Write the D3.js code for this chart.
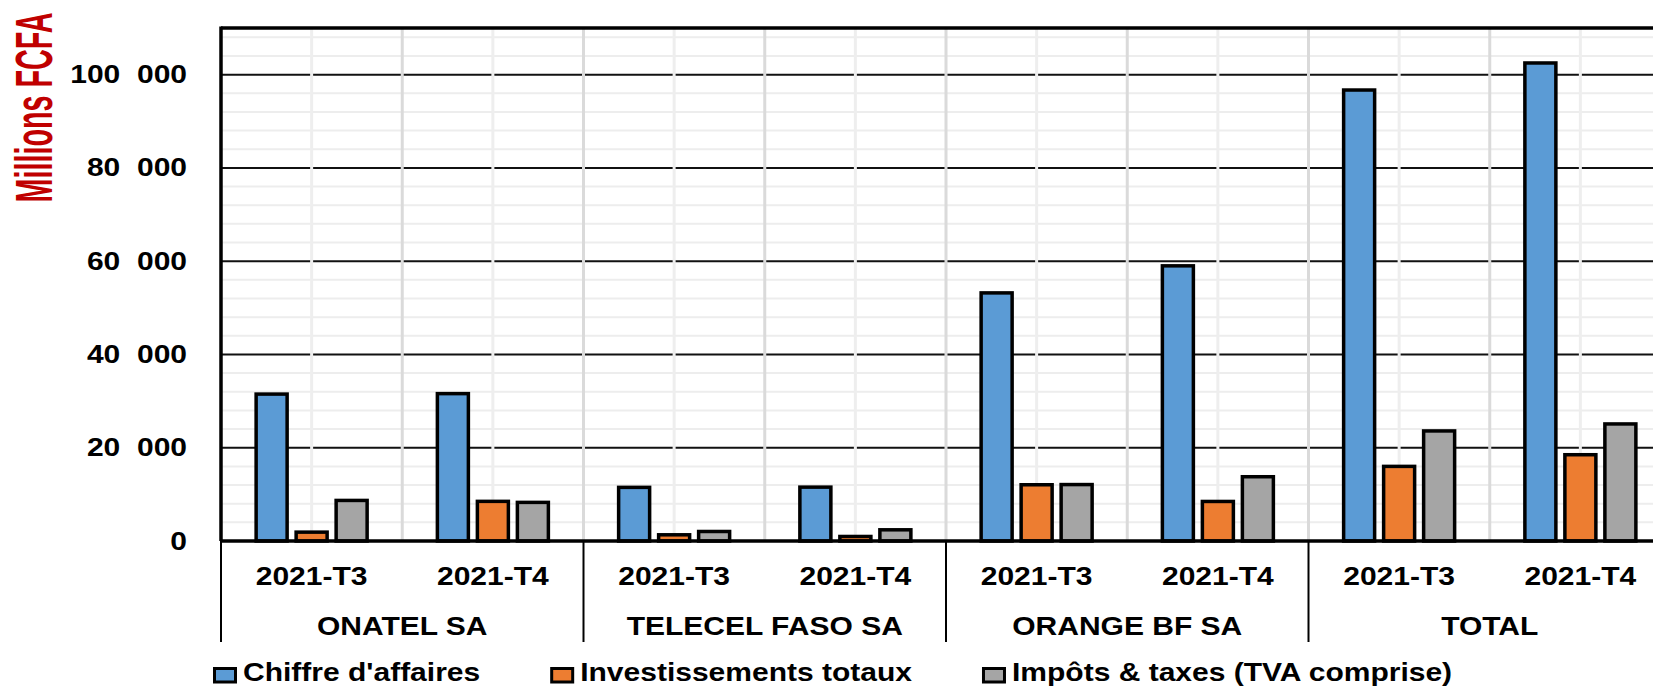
<!DOCTYPE html>
<html>
<head>
<meta charset="utf-8">
<script src="https://cdn.jsdelivr.net/npm/d3@7"></script>
<style>
  html, body { margin: 0; padding: 0; background: #fff; overflow: hidden; }
  svg { display: block; }
  text { font-family: "Liberation Sans", Arial, sans-serif; font-weight: bold; }
</style>
</head>
<body>
<svg id="chart" width="1653" height="687"></svg>
<script>
// ---- Data ----
const groups = ["ONATEL SA", "TELECEL FASO SA", "ORANGE BF SA", "TOTAL"];
const periods = ["2021-T3", "2021-T4"];
const seriesNames = ["Chiffre d'affaires", "Investissements totaux", "Impôts & taxes (TVA comprise)"];
const chiffreAffaires = [31500, 31600, 11500, 11550, 53200, 59000, 96700, 102500];
const investissementsTotaux = [1900, 8500, 1330, 970, 12060, 8480, 16000, 18500];
const impotsTaxes = [8700, 8280, 2040, 2400, 12100, 13780, 23600, 25100];
const seriesColors = ["#5B9BD5", "#ED7D31", "#A5A5A5"];
const yTicks = [0, 20000, 40000, 60000, 80000, 100000];
const yMax = 110000;
const yTitle = "Millions FCFA";

(function () {
// ---- Build table ----
const categories = [];
groups.forEach(g => periods.forEach(p => categories.push({ group: g, period: p })));
const seriesValues = [chiffreAffaires, investissementsTotaux, impotsTaxes];
const rows = categories.map((c, i) => ({
  i, group: c.group, period: c.period,
  values: seriesNames.map((s, k) => ({ key: s, value: seriesValues[k][i], color: seriesColors[k] }))
}));

// ---- Layout ----
const svg = d3.select("#chart");
const pLeft = 221, pTop = 28, pBottom = 541;
const catW = 181.25;
const pRight = pLeft + catW * categories.length;
const STRETCH = 1.2;

const x = d3.scaleBand().domain(d3.range(categories.length)).range([pLeft, pRight]).padding(0);
const xs = d3.scaleBand().domain(seriesNames).range([-60, 60]).paddingInner(0.225).paddingOuter(0.1125);
const y = d3.scaleLinear().domain([0, yMax]).range([pBottom, pTop]);

function stretch(sel) {
  sel.each(function () {
    const w = this.getComputedTextLength();
    this.setAttribute("textLength", w * STRETCH);
    this.setAttribute("lengthAdjust", "spacingAndGlyphs");
  });
}

svg.append("rect").attr("width", 1653).attr("height", 687).attr("fill", "#fff");

// minor horizontal gridlines
const minor = d3.range(4000, yMax, 4000).filter(v => v % 20000 !== 0);
svg.append("g").selectAll("line").data(minor).join("line")
  .attr("x1", pLeft).attr("x2", pRight)
  .attr("y1", d => y(d)).attr("y2", d => y(d))
  .attr("stroke", "#ededed").attr("stroke-width", 2);

// major horizontal gridlines
svg.append("g").selectAll("line").data(yTicks.filter(v => v > 0)).join("line")
  .attr("x1", pLeft).attr("x2", pRight)
  .attr("y1", d => y(d)).attr("y2", d => y(d))
  .attr("stroke", "#111").attr("stroke-width", 2);

// vertical gridlines (boundaries and centers)
svg.append("g").selectAll("line").data(d3.range(1, categories.length + 1)).join("line")
  .attr("x1", d => pLeft + x.step() * d).attr("x2", d => pLeft + x.step() * d)
  .attr("y1", pTop).attr("y2", pBottom)
  .attr("stroke", "#dadada").attr("stroke-width", 3);
svg.append("g").selectAll("line").data(d3.range(categories.length)).join("line")
  .attr("x1", d => x(d) + x.bandwidth() / 2).attr("x2", d => x(d) + x.bandwidth() / 2)
  .attr("y1", pTop).attr("y2", pBottom)
  .attr("stroke", "#eeeeee").attr("stroke-width", 3);

// top border
svg.append("line").attr("x1", pLeft).attr("x2", pRight).attr("y1", pTop).attr("y2", pTop)
  .attr("stroke", "#000").attr("stroke-width", 3.5);

// bars
const cat = svg.append("g").selectAll("g").data(rows).join("g")
  .attr("transform", d => `translate(${x(d.i) + x.bandwidth() / 2},0)`);
cat.selectAll("rect").data(d => d.values).join("rect")
  .attr("x", d => xs(d.key))
  .attr("width", xs.bandwidth())
  .attr("y", d => y(d.value))
  .attr("height", d => y(0) - y(d.value))
  .attr("fill", d => d.color)
  .attr("stroke", "#000").attr("stroke-width", 3.5);

// baseline and left axis
svg.append("line").attr("x1", pLeft).attr("x2", pRight).attr("y1", pBottom).attr("y2", pBottom)
  .attr("stroke", "#000").attr("stroke-width", 3.5);
svg.append("line").attr("x1", pLeft).attr("x2", pLeft).attr("y1", pTop - 1.5).attr("y2", pBottom)
  .attr("stroke", "#000").attr("stroke-width", 3.5);

// group dividers on category axis
svg.append("g").selectAll("line").data(d3.range(groups.length + 1)).join("line")
  .attr("x1", d => pLeft + d * periods.length * x.step())
  .attr("x2", d => pLeft + d * periods.length * x.step())
  .attr("y1", pBottom).attr("y2", 642)
  .attr("stroke", "#000").attr("stroke-width", 2);

// y axis labels
const fmt = v => v === 0 ? "0" : `${Math.floor(v / 1000)}\u00a0\u00a0${String(v % 1000).padStart(3, "0")}`;
const yAxis = svg.append("g").attr("transform", `translate(${pLeft},0)`)
  .call(d3.axisLeft(y).tickValues(yTicks).tickSize(0).tickPadding(34).tickFormat(fmt));
yAxis.select(".domain").remove();
yAxis.selectAll("text")
  .style("font-family", "'Liberation Sans', Arial, sans-serif")
  .style("font-weight", "bold")
  .attr("font-size", 25).attr("fill", "#000")
  .call(stretch);

// category labels
svg.append("g").selectAll("text").data(rows).join("text")
  .attr("x", d => x(d.i) + x.bandwidth() / 2).attr("y", 585)
  .attr("text-anchor", "middle").attr("font-size", 25).attr("fill", "#000")
  .text(d => d.period).call(stretch);

// group labels
svg.append("g").selectAll("text").data(groups).join("text")
  .attr("x", (d, i) => pLeft + (i + 0.5) * periods.length * x.step()).attr("y", 635)
  .attr("text-anchor", "middle").attr("font-size", 25).attr("fill", "#000")
  .text(d => d).call(stretch);

// y title (condensed via scale transform so its box is exact)
const title = svg.append("text")
  .attr("text-anchor", "middle")
  .style("font-family", "'Liberation Sans Narrow', 'Liberation Sans', Arial, sans-serif")
  .attr("font-size", 30).attr("fill", "#C00000")
  .text(yTitle);
const tl = title.node().getComputedTextLength();
title.attr("transform", `translate(52,107.5) rotate(-90) scale(${190 / tl},${51 / 30})`);

// legend
const legend = svg.append("g");
let lx = 213;
seriesNames.forEach((name, k) => {
  legend.append("rect")
    .attr("x", lx + 1.5).attr("y", 668.5).attr("width", 21).attr("height", 13.5)
    .attr("fill", seriesColors[k]).attr("stroke", "#000").attr("stroke-width", 3);
  const t = legend.append("text")
    .attr("x", lx + 30).attr("y", 681).attr("font-size", 25).attr("fill", "#000")
    .text(name);
  const w = t.node().getComputedTextLength() * STRETCH;
  t.attr("textLength", w).attr("lengthAdjust", "spacingAndGlyphs");
  lx = lx + 30 + w + 70;
});
})();
</script>
</body>
</html>
